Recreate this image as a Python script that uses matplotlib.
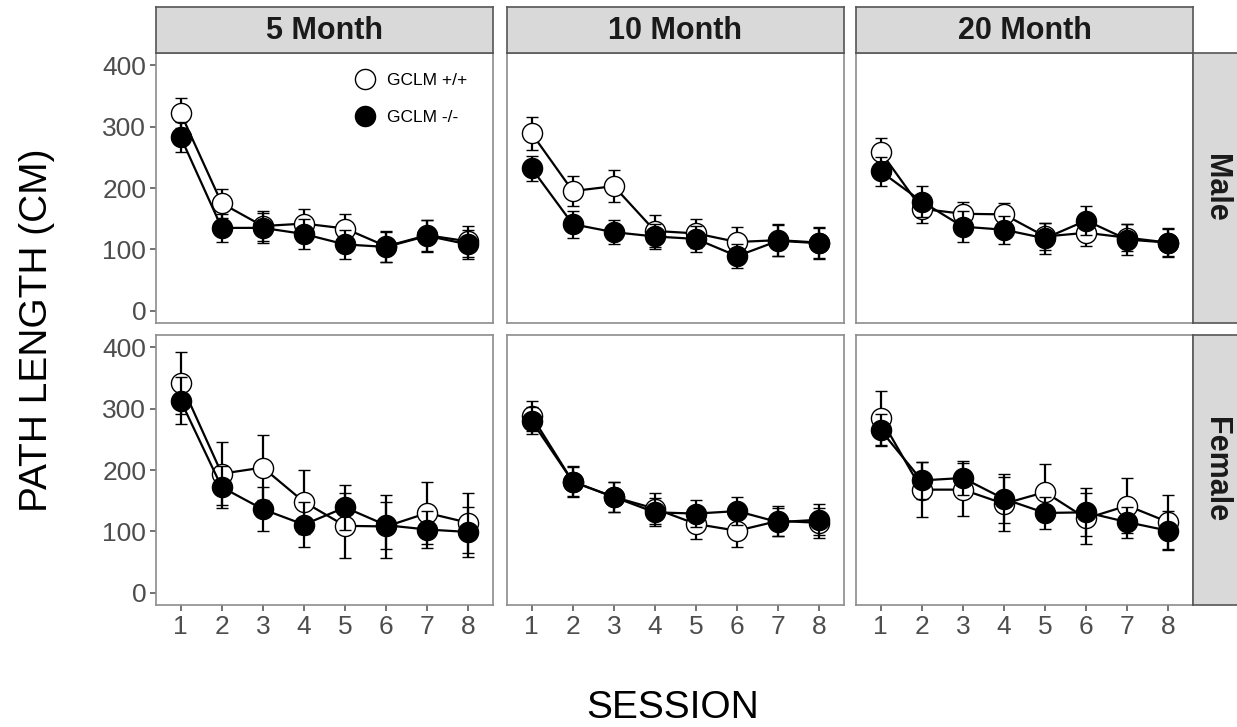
import matplotlib
matplotlib.use("Agg")
import matplotlib.pyplot as plt
from matplotlib.lines import Line2D

plt.rcParams['font.family'] = ['Liberation Sans', 'DejaVu Sans']

sessions = [1, 2, 3, 4, 5, 6, 7, 8]
ages = ["5 Month", "10 Month", "20 Month"]
sexes = ["Male", "Female"]
groups = ["GCLM +/+", "GCLM -/-"]

# male, GCLM +/+  (one list per age)
male_wt_mean = [[322, 175, 138, 142, 134, 105, 123, 113],
                [289, 195, 203, 130, 126, 112, 115, 111],
                [259, 166, 158, 157, 121, 127, 119, 111]]
male_wt_se = [[24, 24, 25, 24, 24, 25, 25, 25],
              [27, 25, 26, 26, 24, 24, 26, 25],
              [23, 23, 20, 19, 22, 22, 22, 22]]
# male, GCLM -/-
male_ko_mean = [[283, 135, 135, 125, 108, 104, 122, 108],
                [232, 141, 128, 121, 117, 89, 114, 110],
                [227, 178, 137, 132, 118, 147, 116, 111]]
male_ko_se = [[24, 23, 25, 24, 23, 25, 26, 24],
              [20, 22, 20, 21, 21, 19, 25, 25],
              [24, 25, 25, 23, 25, 24, 25, 24]]
# female, GCLM +/+
female_wt_mean = [[342, 194, 204, 148, 109, 108, 130, 114],
                  [288, 181, 156, 137, 112, 101, 117, 114],
                  [284, 168, 168, 145, 164, 121, 142, 115]]
female_wt_se = [[51, 51, 53, 52, 53, 52, 51, 49],
                [25, 24, 24, 25, 24, 26, 24, 24],
                [44, 45, 43, 44, 45, 41, 45, 44]]
# female, GCLM -/-
female_ko_mean = [[313, 172, 136, 111, 139, 110, 103, 99],
                  [280, 181, 156, 131, 129, 133, 115, 119],
                  [265, 183, 187, 153, 130, 131, 115, 101]]
female_ko_se = [[38, 34, 36, 37, 36, 38, 30, 40],
                [22, 25, 25, 23, 22, 23, 23, 25],
                [26, 30, 28, 40, 26, 39, 25, 32]]

W, H = 1237, 727
fig = plt.figure(figsize=(W / 100, H / 100), dpi=100)

lefts = [156, 507, 856]
pw = 337
tops = [53, 335]
ph = 270
border = "#8c8c8c"
strip_edge = "#555555"
strip_fill = "#d9d9d9"
tick_col = "#4d4d4d"

data = {
    "Male": (male_wt_mean, male_wt_se, male_ko_mean, male_ko_se),
    "Female": (female_wt_mean, female_wt_se, female_ko_mean, female_ko_se),
}

for r, sex in enumerate(sexes):
    wt_m, wt_s, ko_m, ko_s = data[sex]
    for c, age in enumerate(ages):
        ax = fig.add_axes([lefts[c] / W, 1 - (tops[r] + ph) / H, pw / W, ph / H])
        ax.errorbar(sessions, wt_m[c], yerr=wt_s[c], color="black", lw=1.6,
                    capsize=4, capthick=1.6, elinewidth=1.6, marker="o", ms=14.5,
                    mfc="white", mec="black", mew=1.0, zorder=2)
        ax.errorbar(sessions, ko_m[c], yerr=ko_s[c], color="black", lw=1.6,
                    capsize=4, capthick=1.6, elinewidth=1.6, marker="o", ms=14.5,
                    mfc="black", mec="black", mew=1.0, zorder=3)
        ax.set_xlim(0.4, 8.6)
        ax.set_ylim(-20, 420)
        ax.set_xticks(sessions)
        ax.set_yticks([0, 100, 200, 300, 400])
        for s in ax.spines.values():
            s.set_color(border)
            s.set_linewidth(1.2)
        ax.tick_params(colors=tick_col, labelsize=19, length=4, width=1.1,
                       labelcolor=tick_col, pad=3)
        if c != 0:
            ax.tick_params(axis="y", left=False, labelleft=False)
        if r != 1:
            ax.tick_params(axis="x", bottom=False, labelbottom=False)

        if r == 0:
            sax = fig.add_axes([lefts[c] / W, 1 - tops[0] / H, pw / W, 46 / H])
            sax.set_facecolor(strip_fill)
            sax.set_xticks([])
            sax.set_yticks([])
            for s in sax.spines.values():
                s.set_color(strip_edge)
                s.set_linewidth(1.2)
            sax.text(0.5, 0.48, age, ha="center", va="center", fontsize=22,
                     fontweight="bold", color="#1a1a1a", transform=sax.transAxes)
        if c == 2:
            rax = fig.add_axes([(lefts[2] + pw) / W, 1 - (tops[r] + ph) / H, 46 / W, ph / H])
            rax.set_facecolor(strip_fill)
            rax.set_xticks([])
            rax.set_yticks([])
            for s in rax.spines.values():
                s.set_color(strip_edge)
                s.set_linewidth(1.2)
            rax.text(0.5, 0.5, sex, ha="center", va="center", fontsize=22,
                     fontweight="bold", color="#1a1a1a", rotation=-90,
                     transform=rax.transAxes)
        if r == 0 and c == 0:
            handles = [Line2D([], [], ls="none", marker="o", ms=14.5, mfc="white", mec="black", mew=1.0),
                       Line2D([], [], ls="none", marker="o", ms=14.5, mfc="black", mec="black", mew=1.0)]
            ax.legend(handles, groups, loc="upper right", bbox_to_anchor=(0.955, 0.965),
                      frameon=False, fontsize=12.5, handletextpad=0.25, labelspacing=1.25,
                      borderaxespad=0.2)

fig.text(673 / W, 1 - 708 / H, "SESSION", ha="center", va="center", fontsize=28)
fig.text(37 / W, 1 - 330 / H, "PATH LENGTH (CM)", ha="center", va="center",
         fontsize=28, rotation=90)

fig.savefig("out.png", dpi=100)
